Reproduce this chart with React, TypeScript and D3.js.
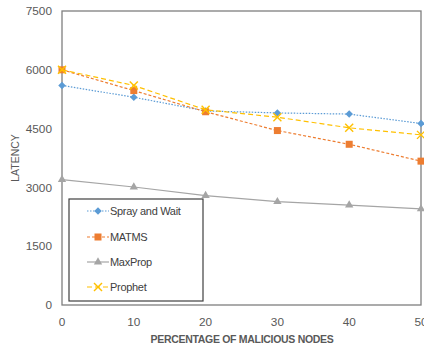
import React from "react";
import * as d3 from "d3";

const xTicks = [0, 10, 20, 30, 40, 50];
const yTicks = [0, 1500, 3000, 4500, 6000, 7500];

const sprayAndWait = [5600, 5300, 4950, 4900, 4870, 4630];
const matms = [6000, 5470, 4930, 4450, 4100, 3670];
const maxProp = [3200, 3010, 2790, 2635, 2550, 2450];
const prophet = [6000, 5600, 4980, 4790, 4520, 4340];

const seriesNames = ["Spray and Wait", "MATMS", "MaxProp", "Prophet"];
const seriesColors = ["#5B9BD5", "#ED7D31", "#A5A5A5", "#FFC000"];
const seriesDash = ["1.5 1.5", "3 2", "none", "5 3"];
const seriesMarkers = ["diamond", "square", "triangle", "x"];
const seriesValues = [sprayAndWait, matms, maxProp, prophet];

const margin = { top: 11, right: 3, bottom: 44, left: 62 };
const width = 424;
const height = 349;
const font = "'Liberation Sans', Arial, sans-serif";
const textColor = "#595959";

const Marker = ({ type, x, y, color }) => {
  if (type === "diamond") {
    const s = d3.symbol(d3.symbolSquare, 28)();
    return <path d={s} transform={`translate(${x},${y}) rotate(45)`} fill={color} />;
  }
  if (type === "square") {
    return <rect x={x - 3.5} y={y - 3.5} width={7} height={7} fill={color} />;
  }
  if (type === "triangle") {
    const s = d3.symbol(d3.symbolTriangle, 30)();
    return <path d={s} transform={`translate(${x},${y})`} fill={color} />;
  }
  return (
    <g stroke={color} strokeWidth={1.4}>
      <line x1={x - 4} y1={y - 4} x2={x + 4} y2={y + 4} />
      <line x1={x - 4} y1={y + 4} x2={x + 4} y2={y - 4} />
    </g>
  );
};

export default function App() {
  const innerWidth = width - margin.left - margin.right;
  const innerHeight = height - margin.top - margin.bottom;

  const xScale = d3.scaleLinear().domain([0, 50]).range([margin.left, margin.left + innerWidth]);
  const yScale = d3.scaleLinear().domain([0, 7500]).range([margin.top + innerHeight, margin.top]);

  const line = d3
    .line<number>()
    .x((_, i) => xScale(xTicks[i]))
    .y((d) => yScale(d));

  const legendX = 69;
  const legendY = 199;
  const legendRows = [211, 237, 262, 287];

  return (
    <svg
      width={width}
      height={height}
      style={{ position: "absolute", left: 0, top: 0, background: "#fff" }}
      fontFamily={font}
    >
      <rect
        x={margin.left}
        y={margin.top}
        width={innerWidth}
        height={innerHeight}
        fill="none"
        stroke="#7F7F7F"
        strokeWidth={1.3}
      />
      {yTicks.map((t) => (
        <text
          key={t}
          x={52}
          y={yScale(t)}
          dy="0.35em"
          textAnchor="end"
          fontSize={11.8}
          fill={textColor}
        >
          {t}
        </text>
      ))}
      {xTicks.map((t) => (
        <text
          key={t}
          x={xScale(t)}
          y={322}
          dy="0.35em"
          textAnchor="middle"
          fontSize={11.8}
          fill={textColor}
        >
          {t}
        </text>
      ))}
      {seriesValues.map((vals, si) => (
        <g key={seriesNames[si]}>
          <path
            d={line(vals)}
            fill="none"
            stroke={seriesColors[si]}
            strokeWidth={1.2}
            strokeDasharray={seriesDash[si]}
          />
          {vals.map((v, i) => (
            <Marker
              key={i}
              type={seriesMarkers[si]}
              x={xScale(xTicks[i])}
              y={yScale(v)}
              color={seriesColors[si]}
            />
          ))}
        </g>
      ))}
      <rect
        x={legendX}
        y={legendY}
        width={134}
        height={102}
        fill="#fff"
        stroke="#404040"
        strokeWidth={1.2}
      />
      {seriesNames.map((name, si) => (
        <g key={name}>
          <line
            x1={87}
            x2={109}
            y1={legendRows[si]}
            y2={legendRows[si]}
            stroke={seriesColors[si]}
            strokeWidth={1.2}
            strokeDasharray={seriesDash[si]}
          />
          <Marker type={seriesMarkers[si]} x={98} y={legendRows[si]} color={seriesColors[si]} />
          <text
            x={110}
            y={legendRows[si]}
            dy="0.35em"
            fontSize={11}
            letterSpacing={-0.3}
            fill="#404040"
          >
            {name}
          </text>
        </g>
      ))}
      <text
        transform={`translate(15,158) rotate(-90)`}
        textAnchor="middle"
        dy="0.35em"
        fontSize={10.5}
        fill={textColor}
      >
        LATENCY
      </text>
      <text
        x={242}
        y={339}
        dy="0.35em"
        textAnchor="middle"
        fontSize={10.5}
        fontWeight="bold"
        letterSpacing={-0.3}
        fill={textColor}
      >
        PERCENTAGE OF MALICIOUS NODES
      </text>
    </svg>
  );
}
